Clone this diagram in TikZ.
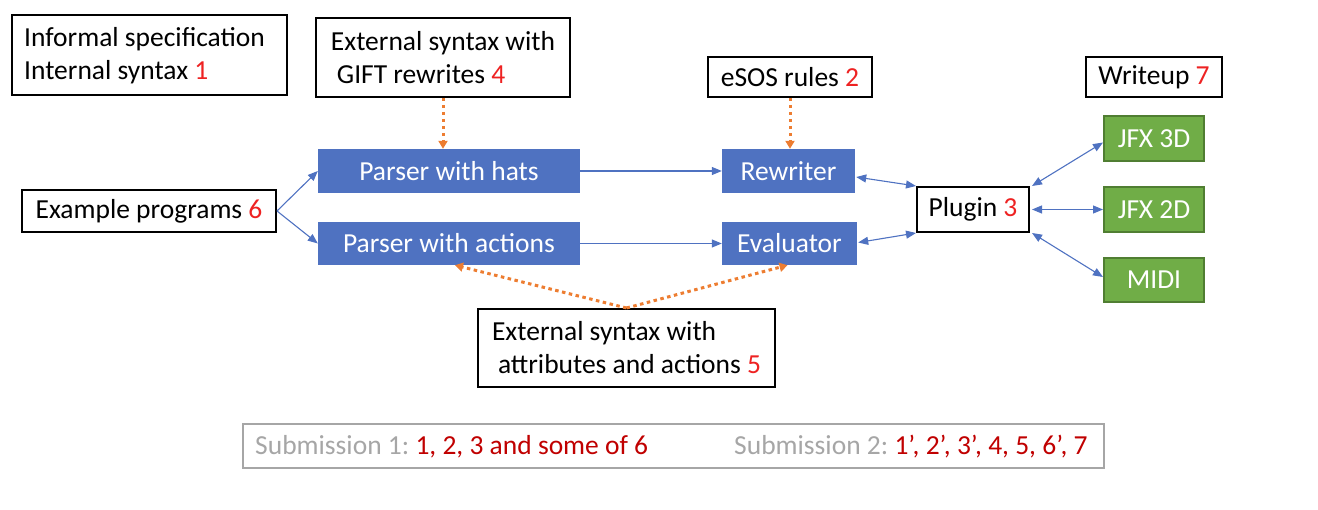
\documentclass[tikz,border=0pt]{standalone}
\usepackage{fontspec}
\setmainfont{Carlito}
\usetikzlibrary{arrows.meta,calc}
\definecolor{oblue}{HTML}{4F72C1}
\definecolor{ogreen}{HTML}{70AD47}
\definecolor{ogreenb}{HTML}{507E32}
\definecolor{oorange}{HTML}{ED7D31}
\definecolor{nred}{HTML}{EE2222}
\definecolor{dred}{HTML}{C00000}
\definecolor{lgray}{HTML}{A6A6A6}
\newcommand\rd[1]{\textcolor{nred}{#1}}
\frenchspacing
\begin{document}
\begin{tikzpicture}[x=1pt,y=-1pt,
  font=\fontsize{27.5}{33}\selectfont,
  wbox/.style={draw=black, line width=2pt, fill=white, inner sep=0pt, text=black},
  bbox/.style={fill=oblue, inner sep=0pt, text=white},
  gbox/.style={draw=ogreenb, line width=2pt, fill=ogreen, inner sep=0pt, text=white},
  barrow/.style={draw=oblue, line width=1.1pt, -{Triangle[length=10pt,width=8pt]}},
  bbarrow/.style={draw=oblue, line width=1.1pt, {Triangle[length=10pt,width=8pt]}-{Triangle[length=10pt,width=8pt]}},
  oarrow/.style={draw=oorange, line width=3pt, dash pattern=on 3.5pt off 3.5pt, -{Triangle[length=8pt,width=9pt]}}
]
\useasboundingbox (0,0) rectangle (1318,510);

% top boxes
\node[wbox, minimum width=275, minimum height=80] (informal) at (149.5,55) {};
\node[anchor=north west, inner sep=0pt, align=left] (informaltext) at (24,27)
  {Informal specification\\Internal syntax \rd{1}};
\node[wbox, minimum width=254, minimum height=79, align=left] (gift) at (443,57.5)
  {External syntax with\\\hspace*{6pt}GIFT rewrites \rd{4}};
\node[wbox, minimum width=164, minimum height=40] (esos) at (790,77) {eSOS rules \rd{2}};
\node[wbox, minimum width=136, minimum height=40] (writeup) at (1154,77) {Writeup \rd{7}};

% blue boxes
\node[bbox, minimum width=262, minimum height=44] (hats) at (449,171) {Parser with hats};
\node[bbox, minimum width=262, minimum height=43] (actions) at (449,243.5) {Parser with actions};
\node[bbox, minimum width=133, minimum height=44] (rewriter) at (788.5,171) {Rewriter};
\node[bbox, minimum width=135, minimum height=43] (evaluator) at (789.5,243.5) {Evaluator};

% other boxes
\node[wbox, minimum width=254, minimum height=42] (example) at (149,211) {Example programs \rd{6}};
\node[wbox, minimum width=112, minimum height=45] (plugin) at (973,209.5) {Plugin \rd{3}};
\node[gbox, minimum width=100, minimum height=45] (jfx3) at (1154,138.5) {JFX 3D};
\node[gbox, minimum width=100, minimum height=45] (jfx2) at (1154,209.5) {JFX 2D};
\node[gbox, minimum width=100, minimum height=44] (midi) at (1154,280) {MIDI};
\node[wbox, minimum width=297, minimum height=78, align=left] (ext5) at (626.5,348)
  {External syntax with\\\hspace*{6pt}attributes and actions \rd{5}};

% bottom box
\node[draw=lgray, line width=2pt, minimum width=861, minimum height=44, inner sep=0pt] (bottom) at (673.5,446) {};
\node[anchor=west, inner sep=0pt, text=lgray] (sub1) at (255,447) {Submission 1: \textcolor{dred}{1, 2, 3 and some of 6}};
\node[anchor=west, inner sep=0pt, text=lgray] (sub2) at (734,447) {Submission 2: \textcolor{dred}{1’, 2’, 3’, 4, 5, 6’, 7}};

% blue arrows
\draw[barrow] (example.east) -- (hats.west);
\draw[barrow] (example.east) -- (actions.west);
\draw[barrow] (hats.east) -- (rewriter.west);
\draw[barrow] (actions.east) -- (evaluator.west);
\draw[bbarrow] ($(rewriter.east)+(1,6)$) -- (plugin.north west);
\draw[bbarrow] ($(evaluator.east)+(1,-1)$) -- (plugin.south west);
\draw[bbarrow] ($(plugin.north east)+(2,0)$) -- ($(jfx3.west)+(0,4)$);
\draw[bbarrow] ($(plugin.east)+(2,0)$) -- (jfx2.west);
\draw[bbarrow] ($(plugin.south east)+(2,0)$) -- ($(midi.west)+(0,-3)$);

% orange dotted arrows
\draw[oarrow] (gift.south) -- (gift.south |- hats.north);
\draw[oarrow] (esos.south) -- (esos.south |- rewriter.north);
\draw[oarrow] (ext5.north) -- ($(actions.south)+(6,0)$);
\draw[oarrow] (ext5.north) -- ($(evaluator.south)+(-2,0)$);
\end{tikzpicture}
\end{document}
